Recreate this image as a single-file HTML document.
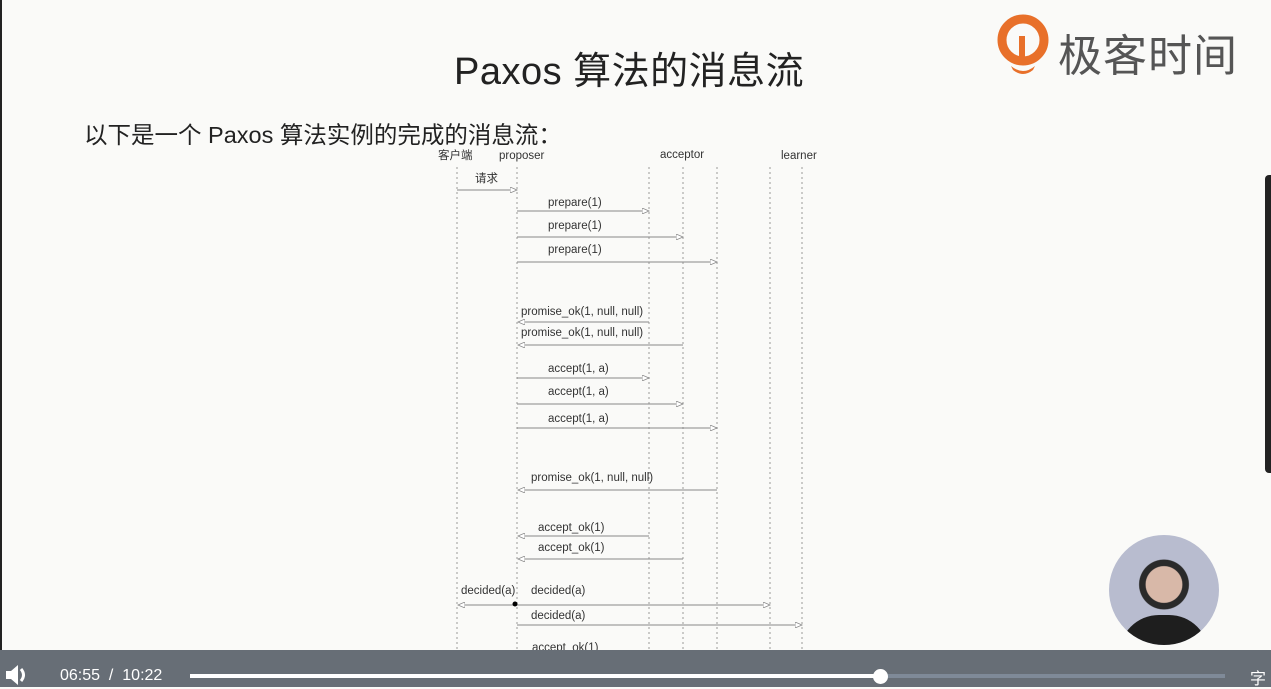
<!DOCTYPE html>
<html><head><meta charset="utf-8"><style>
body{margin:0;width:1271px;height:687px;overflow:hidden;background:#fafaf8;position:relative;font-family:"Liberation Sans","Noto Sans CJK SC",sans-serif}
.a{position:absolute}
</style></head><body>
<div class="a" style="left:0;top:0;width:2px;height:650px;background:#222"></div>
<div class="a" style="left:454px;top:40px;font-size:38px;color:#222;white-space:nowrap;letter-spacing:0.5px">Paxos 算法的消息流</div>
<div class="a" style="left:84px;top:116px;font-size:23.5px;color:#222;white-space:nowrap">以下是一个 Paxos 算法实例的完成的消息流：</div>
<svg class="a" style="left:997px;top:14px" width="52" height="62" viewBox="0 0 52 62">
<circle cx="26" cy="26" r="21" fill="none" stroke="#e8702a" stroke-width="9"/>
<path d="M22 22 L28 22 L28 50 L22 50Z" fill="#e8702a"/>
<path d="M14 52 Q26 62 38 52 L36 56 Q26 64 16 56Z" fill="#e8702a"/>
</svg>
<div class="a" style="left:1058px;top:20px;font-size:44px;color:#555;white-space:nowrap;letter-spacing:1px">极客时间</div>
<div class="a" style="left:1265px;top:175px;width:6px;height:298px;background:#222;border-radius:4px 0 0 4px"></div>
<svg class="a" style="left:0;top:0" width="1271" height="687" font-family="Liberation Sans, Noto Sans CJK SC, sans-serif" font-size="11.5" fill="#333">
<defs><marker id="m" markerWidth="8" markerHeight="6" refX="7" refY="3" orient="auto"><path d="M0,0 L7,3 L0,6Z" fill="#fff" stroke="#888" stroke-width="0.8"/></marker></defs>
<g stroke="#999" stroke-dasharray="2,3" stroke-width="1">
<line x1="457" y1="167" x2="457" y2="650"/><line x1="517" y1="167" x2="517" y2="650"/>
<line x1="649" y1="167" x2="649" y2="650"/><line x1="683" y1="167" x2="683" y2="650"/>
<line x1="717" y1="167" x2="717" y2="650"/><line x1="770" y1="167" x2="770" y2="650"/>
<line x1="802" y1="167" x2="802" y2="650"/></g>
<text x="438" y="159">客户端</text><text x="499" y="159">proposer</text><text x="660" y="158">acceptor</text><text x="781" y="159">learner</text>
<g stroke="#888" stroke-width="1" marker-end="url(#m)">
<line x1="457" y1="190" x2="517" y2="190"/>
<line x1="517" y1="211" x2="649" y2="211"/><line x1="517" y1="237" x2="683" y2="237"/><line x1="517" y1="262" x2="717" y2="262"/>
<line x1="649" y1="322" x2="518" y2="322"/><line x1="683" y1="345" x2="518" y2="345"/>
<line x1="517" y1="378" x2="649" y2="378"/><line x1="517" y1="404" x2="683" y2="404"/><line x1="517" y1="428" x2="717" y2="428"/>
<line x1="717" y1="490" x2="518" y2="490"/>
<line x1="649" y1="536" x2="518" y2="536"/><line x1="683" y1="559" x2="518" y2="559"/>
<line x1="517" y1="605" x2="770" y2="605"/><line x1="517" y1="605" x2="458" y2="605"/>
<line x1="517" y1="625" x2="802" y2="625"/>
<line x1="717" y1="657" x2="518" y2="657"/></g>
<circle cx="515" cy="604" r="2.5" fill="#000"/>
<text x="475" y="182">请求</text>
<text x="548" y="206">prepare(1)</text><text x="548" y="229">prepare(1)</text><text x="548" y="253">prepare(1)</text>
<text x="521" y="315">promise_ok(1, null, null)</text><text x="521" y="336">promise_ok(1, null, null)</text>
<text x="548" y="372">accept(1, a)</text><text x="548" y="395">accept(1, a)</text><text x="548" y="422">accept(1, a)</text>
<text x="531" y="481">promise_ok(1, null, null)</text>
<text x="538" y="531">accept_ok(1)</text><text x="538" y="551">accept_ok(1)</text>
<text x="461" y="594">decided(a)</text><text x="531" y="594">decided(a)</text><text x="531" y="619">decided(a)</text>
<text x="532" y="651">accept_ok(1)</text>
</svg>
<div class="a" style="left:1109px;top:535px;width:110px;height:110px;border-radius:50%;background:radial-gradient(circle at 50% 45%,#d8b8a8 0 22%,#2a2a2a 23% 30%,#b8bccf 31%);overflow:hidden">
<div class="a" style="left:10px;top:80px;width:90px;height:40px;background:#1e1e1e;border-radius:40px 40px 0 0"></div></div>
<div class="a" style="left:0;top:650px;width:1271px;height:37px;background:#676e76"></div>
<svg class="a" style="left:4px;top:664px" width="26" height="22" viewBox="0 0 26 22"><path d="M2 7 H7 L14 1 V21 L7 15 H2Z" fill="#fff"/><path d="M17 5 Q22 11 17 17" stroke="#fff" stroke-width="3" fill="none"/></svg>
<div class="a" style="left:60px;top:667px;color:#fff;font-size:16px;white-space:nowrap">06:55 &nbsp;/ &nbsp;10:22</div>
<div class="a" style="left:190px;top:674px;width:690px;height:4px;background:#fff"></div>
<div class="a" style="left:880px;top:674px;width:345px;height:4px;background:#7f8a98"></div>
<div class="a" style="left:873px;top:669px;width:15px;height:15px;border-radius:50%;background:#fff"></div>
<div class="a" style="left:1250px;top:665px;color:#fff;font-size:16px">字</div>
</body></html>
